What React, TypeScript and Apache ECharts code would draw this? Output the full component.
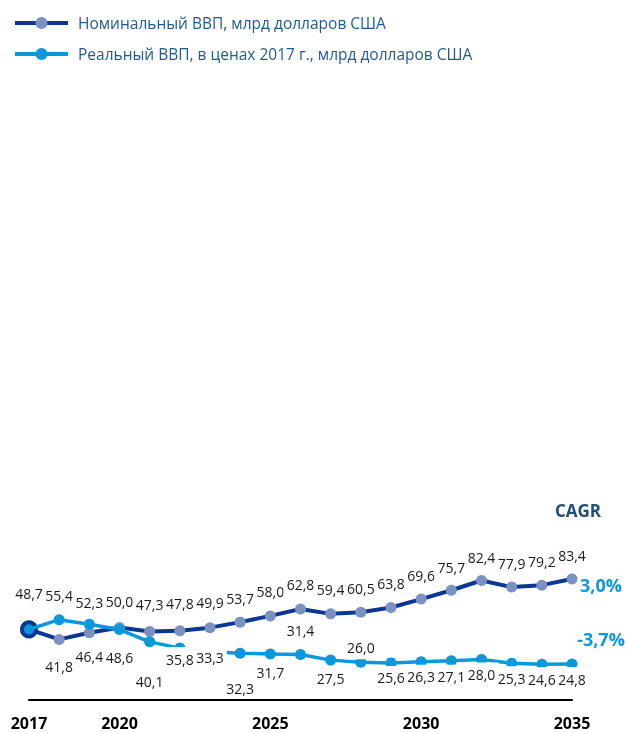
import React, { useEffect, useRef } from "react";
import * as echarts from "echarts";

const years = ["2017","2018","2019","2020","2021","2022","2023","2024","2025","2026","2027","2028","2029","2030","2031","2032","2033","2034","2035"];
const shownYears = ["2017", "2020", "2025", "2030", "2035"];
const nominalName = "Номинальный ВВП, млрд долларов США";
const realName = "Реальный ВВП, в ценах 2017 г., млрд долларов США";
const nominal = [48.7, 41.8, 46.4, 50.0, 47.3, 47.8, 49.9, 53.7, 58.0, 62.8, 59.4, 60.5, 63.8, 69.6, 75.7, 82.4, 77.9, 79.2, 83.4];
const real = [48.7, 55.4, 52.3, 48.6, 40.1, 35.8, 33.3, 32.3, 31.7, 31.4, 27.5, 26.0, 25.6, 26.3, 27.1, 28.0, 25.3, 24.6, 24.8];
const cagrLabels = ["3,0%", "-3,7%"];

// label vertical offsets (layout)
const nominalLabelDy = [-36, 27, 24, -26, -27, -27, -25, -24, -24, -24, -24, -24, -24, -24, -23, -23, -24, -24, -24];
const realLabelDy = [0, -24, -22, 28, 40, 11, 6, 35, 18, -24, 18, -15, 15, 15, 16, 15, 15, 15, 15];

const NAVY = "#0a3791";
const GREY = "#7a91c2";
const LIGHT = "#0a98dc";
const FONT = "'Open Sans', 'Noto Sans', sans-serif";

const fmt = (v: number) => v.toFixed(1).replace(".", ",");

export default function App() {
  const ref = useRef<HTMLDivElement>(null);
  useEffect(() => {
    if (!ref.current) return;
    const chart = echarts.init(ref.current, null, { renderer: "svg" });
    const baseLabel = {
      show: true,
      position: "inside",
      color: "#1a1a1a",
      fontFamily: FONT,
      fontSize: 14,
      textBorderWidth: 0,
      backgroundColor: "#ffffff",
      padding: [5, 3],
      formatter: (p: any) => fmt(p.value),
    };
    const nominalData = nominal.map((v, i) => {
      const item: any = { value: v, label: { offset: [0, nominalLabelDy[i]] } };
      if (i === 0) {
        item.symbolSize = 14;
        item.itemStyle = { color: LIGHT, borderColor: NAVY, borderWidth: 4 };
      }
      return item;
    });
    const realData = real.map((v, i) => {
      const item: any = { value: v, label: { offset: [0, realLabelDy[i]] } };
      if (i === 0) {
        item.symbol = "none";
        item.label = { show: false };
      }
      return item;
    });
    chart.setOption({
      animation: false,
      textStyle: { fontFamily: FONT },
      legend: {
        orient: "vertical",
        left: 8,
        top: 10,
        itemWidth: 53,
        itemHeight: 15,
        itemGap: 15,
        lineStyle: { width: 4 },
        textStyle: { color: "#1f5a96", fontSize: 15.5, fontFamily: FONT, padding: [0, 0, 0, 5] },
        data: [nominalName, realName],
      },
      grid: { left: 29, right: 54, top: 120, bottom: 33 },
      xAxis: {
        type: "category",
        data: years,
        boundaryGap: false,
        z: 6,
        axisLine: { lineStyle: { color: "#000", width: 2 } },
        axisTick: { show: false },
        axisLabel: {
          interval: (idx: number, val: string) => shownYears.includes(val),
          color: "#000",
          fontWeight: "bold",
          fontSize: 16,
          lineHeight: 16,
          fontFamily: FONT,
          margin: 15,
        },
        splitLine: { show: false },
      },
      yAxis: { type: "value", min: 0, max: 400, show: false, splitLine: { show: false } },
      graphic: [
        { type: "text", x: 578, y: 510, style: { text: "CAGR", fill: "#1f4e79", font: `bold 17px ${FONT}`, align: "center", verticalAlign: "middle" } },
        { type: "text", x: 601, y: 585, style: { text: cagrLabels[0], fill: LIGHT, font: `bold 18px ${FONT}`, align: "center", verticalAlign: "middle" } },
        { type: "text", x: 601, y: 639, style: { text: cagrLabels[1], fill: LIGHT, font: `bold 18px ${FONT}`, align: "center", verticalAlign: "middle" } },
      ],
      series: [
        {
          name: nominalName,
          type: "line",
          data: nominalData,
          symbol: "circle",
          symbolSize: 11,
          lineStyle: { color: NAVY, width: 4 },
          itemStyle: { color: GREY },
          label: baseLabel,
          z: 2,
        },
        {
          name: realName,
          type: "line",
          data: realData,
          symbol: "circle",
          symbolSize: 11,
          lineStyle: { color: LIGHT, width: 3.5 },
          itemStyle: { color: LIGHT },
          label: baseLabel,
          z: 3,
        },
      ],
    });
    return () => chart.dispose();
  }, []);
  return <div ref={ref} style={{ position: "fixed", left: 0, top: 0, width: 626, height: 733 }} />;
}
